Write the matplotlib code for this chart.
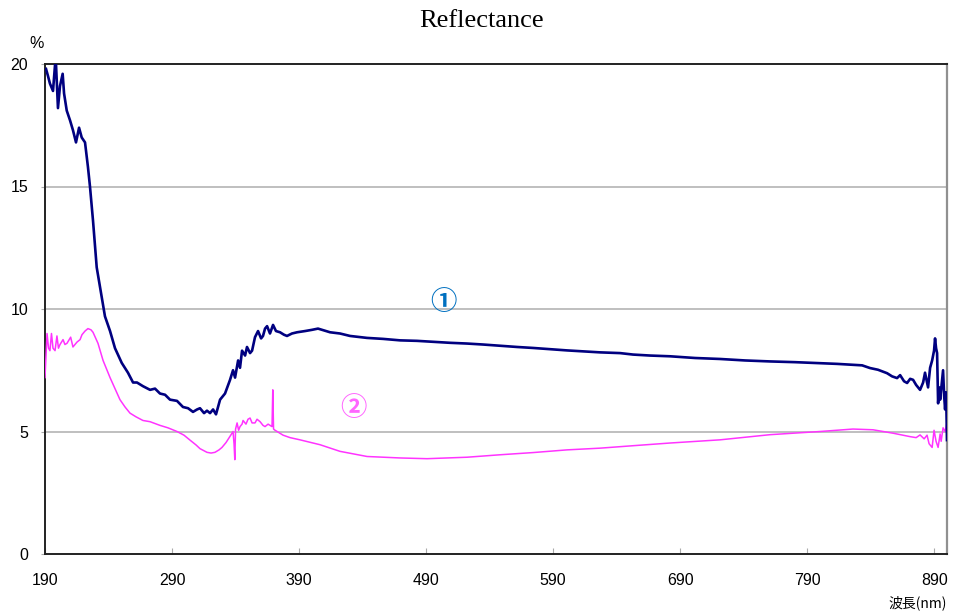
import matplotlib
matplotlib.use("Agg")
import matplotlib.pyplot as plt
from matplotlib import font_manager

# Reflectance spectra (wavelength nm, reflectance %)
wl_1 = [190.8, 192.4, 193.9, 196.3, 198.4, 200.2, 201.8, 203.9, 205.0, 207.1,
        209.7, 212.0, 214.4, 216.8, 218.9, 221.5, 223.8, 225.4, 227.8, 230.7,
        234.6, 237.2, 241.2, 245.1, 250.4, 255.3, 259.3, 262.4, 267.1, 272.7,
        276.6, 280.5, 284.5, 288.4, 293.9, 298.6, 302.6, 306.5, 309.7, 312.0,
        315.2, 317.5, 319.9, 322.3, 324.6, 327.8, 331.7, 335.6, 338.0, 339.6,
        342.0, 343.5, 345.1, 347.5, 349.0, 351.4, 353.0, 355.3, 357.7, 360.1,
        361.6, 363.2, 364.8, 367.1, 369.5, 371.8, 375.0, 378.1, 380.5, 384.4,
        388.4, 394.7, 400.2, 404.9, 408.1, 414.4, 422.2, 430.1, 443.5, 456.1,
        469.5, 482.8, 495.4, 508.8, 522.2, 534.8, 548.2, 561.6, 574.2, 587.5,
        600.9, 613.5, 626.9, 642.7, 652.9, 666.3, 682.0, 701.7, 721.4, 741.0,
        760.7, 780.4, 800.1, 813.5, 826.0, 833.2, 839.4, 845.7, 852.8, 856.8,
        860.7, 863.1, 866.2, 868.6, 871.0, 873.3, 875.7, 878.8, 881.2, 882.7,
        885.1, 886.7, 888.3, 889.8, 890.6, 891.4, 892.2, 893.0, 893.8, 894.6,
        896.1, 896.9, 897.7, 898.5, 899.3, 900.0]
refl_1 = [19.8, 19.5, 19.2, 18.9, 20.3, 18.2, 19.1, 19.6, 18.8, 18.1,
          17.7, 17.3, 16.8, 17.4, 17.0, 16.8, 15.8, 15.0, 13.6, 11.7,
          10.5, 9.7, 9.1, 8.4, 7.8, 7.4, 7.0, 7.0, 6.85, 6.7,
          6.75, 6.55, 6.5, 6.3, 6.25, 6.0, 5.95, 5.8, 5.9, 5.95,
          5.75, 5.85, 5.75, 5.9, 5.7, 6.3, 6.55, 7.1, 7.5, 7.2,
          7.9, 7.6, 8.3, 8.1, 8.45, 8.2, 8.3, 8.85, 9.1, 8.8,
          8.9, 9.2, 9.3, 9.0, 9.35, 9.1, 9.05, 8.95, 8.9, 9.0,
          9.05, 9.1, 9.15, 9.2, 9.15, 9.05, 9.0, 8.9, 8.82, 8.78,
          8.72, 8.7, 8.66, 8.62, 8.59, 8.55, 8.5, 8.45, 8.41, 8.36,
          8.31, 8.27, 8.23, 8.2, 8.14, 8.1, 8.07, 8.0, 7.96, 7.9,
          7.86, 7.83, 7.79, 7.76, 7.72, 7.7, 7.59, 7.52, 7.38, 7.25,
          7.18, 7.3, 7.05, 6.98, 7.15, 7.11, 6.9, 6.7, 7.0, 7.4,
          6.8, 7.6, 7.9, 8.3, 8.8, 8.4, 8.2, 6.15, 6.8, 6.3,
          7.1, 7.5, 6.5, 5.9, 6.6, 4.65]

wl_2 = [190.0, 190.8, 191.6, 192.8, 193.9, 195.1, 196.3, 197.9, 199.4, 200.6,
        201.8, 204.2, 205.7, 207.3, 210.2, 212.0, 215.2, 217.6, 219.1, 221.5,
        223.8, 226.2, 227.8, 231.7, 235.7, 241.2, 245.1, 249.0, 253.0, 256.9,
        261.6, 267.1, 272.7, 280.5, 286.8, 293.9, 299.4, 304.1, 308.9, 312.0,
        317.5, 320.7, 323.8, 327.0, 329.3, 332.5, 335.6, 338.0, 338.8, 339.4,
        340.0, 341.2, 342.4, 343.5, 345.1, 345.9, 348.2, 349.8, 351.4, 353.0,
        355.3, 356.9, 359.3, 361.6, 363.2, 365.6, 368.7, 369.3, 369.9, 371.1,
        377.4, 382.9, 390.7, 406.5, 422.2, 443.5, 469.5, 490.7, 522.2, 548.2,
        574.2, 600.9, 626.9, 652.9, 682.0, 721.4, 760.7, 800.1, 826.0, 841.8,
        857.6, 871.0, 875.7, 878.8, 882.0, 884.3, 885.9, 888.3, 889.8, 891.4,
        893.0, 894.6, 895.4, 896.9, 898.5, 900.0]
refl_2 = [7.2, 8.1, 9.0, 8.4, 8.3, 9.0, 8.4, 8.3, 8.9, 8.4,
          8.55, 8.75, 8.55, 8.6, 8.85, 8.45, 8.65, 8.75, 8.95, 9.1,
          9.2, 9.15, 9.05, 8.6, 7.9, 7.2, 6.75, 6.3, 6.0, 5.75,
          5.6, 5.45, 5.4, 5.25, 5.15, 5.0, 4.85, 4.65, 4.45, 4.3,
          4.15, 4.12, 4.15, 4.25, 4.35, 4.55, 4.8, 5.0, 4.5, 3.85,
          5.1, 5.35, 5.05, 5.2, 5.3, 5.45, 5.3, 5.5, 5.55, 5.35,
          5.35, 5.5, 5.4, 5.25, 5.2, 5.3, 5.2, 6.7, 5.1, 5.05,
          4.85, 4.75, 4.66, 4.46, 4.19, 3.98, 3.92, 3.89, 3.95, 4.05,
          4.14, 4.25, 4.32, 4.42, 4.53, 4.66, 4.87, 5.0, 5.1, 5.07,
          4.93, 4.79, 4.75, 4.86, 4.7, 4.85, 4.5, 4.35, 5.05, 4.6,
          4.35, 4.9, 4.6, 5.15, 5.0, 5.35]

x_ticks = [190, 290, 390, 490, 590, 690, 790, 890]
y_ticks = [0, 5, 10, 15, 20]

names = {f.name for f in font_manager.fontManager.ttflist}
narrow = 'Liberation Sans Narrow' if 'Liberation Sans Narrow' in names else 'Liberation Sans'
cjk = ['Noto Sans CJK JP', 'DejaVu Sans']

fig = plt.figure(figsize=(9.64, 6.13), dpi=100)
ax = fig.add_axes([45/964, 59/613, 902/964, 490/613])

ax.plot(wl_2, refl_2, color='#ff33ff', linewidth=1.1, zorder=3)
ax.plot(wl_1, refl_1, color='#000080', linewidth=1.9, zorder=4)

ax.set_xlim(190, 900)
ax.set_ylim(0, 20)
ax.set_xticks(x_ticks)
ax.set_yticks(y_ticks)
ax.set_xticklabels([str(v) for v in x_ticks], family=narrow, fontsize=11.5)
ax.set_yticklabels([str(v) for v in y_ticks], family=narrow, fontsize=11.5)
ax.tick_params(axis='x', direction='in', length=4, color='#aaaaaa', pad=14)
ax.tick_params(axis='y', direction='out', length=3, color='#aaaaaa', pad=9)

for v in [5, 10, 15]:
    ax.axhline(v, color='#b4b4b4', linewidth=1.2, zorder=1)

for s in ['left', 'bottom', 'top']:
    ax.spines[s].set_color('#222222')
    ax.spines[s].set_linewidth(1.4)
ax.spines['right'].set_color('#909090')
ax.spines['right'].set_linewidth(1.6)

fig.text(482/964, 1 - 21/613, 'Reflectance', family='Liberation Serif',
         fontsize=19, ha='center', va='center')
fig.text(37/964, 1 - 43/613, '%', family=narrow, fontsize=11.5,
         ha='center', va='center')
fig.text(947/964, 1 - 603/613, '波長(nm)', family=cjk, fontsize=10,
         ha='right', va='center')

# circled curve labels
ax.text(503.5, 10.27, '①', family=cjk, fontsize=19, fontweight='bold',
        color='#0070c0', ha='center', va='center')
ax.text(433.1, 5.95, '②', family=cjk, fontsize=19, fontweight='bold',
        color='#ff66ff', ha='center', va='center')

fig.savefig('out.png', dpi=100)
